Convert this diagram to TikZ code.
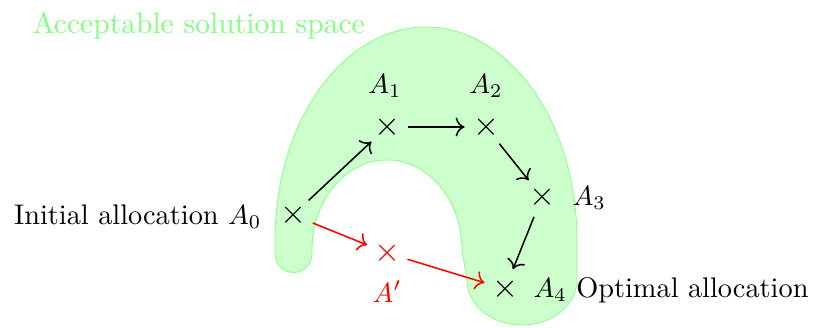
\documentclass[tikz,border=0pt]{standalone}
\usetikzlibrary{arrows.meta}
\tikzset{
  pt/.style={circle,inner sep=0pt,minimum size=15pt,font=\fontsize{12}{14}\selectfont},
  lab/.style={inner sep=0pt,font=\fontsize{10.2}{12}\selectfont},
  arr/.style={-{To[scale=1.15]},line width=0.55pt},
  redarr/.style={arr,red},
}
\begin{document}
\begin{tikzpicture}[x=0.36pt,y=-0.36pt]
\useasboundingbox (0,0) rectangle (817,327);
% acceptable region
\fill[green!20,draw=green!45,line width=0.3pt]
  (275,254) -- (275,240)
  arc[start angle=180,end angle=360,x radius=151,y radius=213]
  -- (577,280)
  arc[start angle=0,end angle=180,x radius=55,y radius=45]
  -- (462,250)
  arc[start angle=0,end angle=-180,x radius=75,y radius=90]
  -- (312,254)
  arc[start angle=0,end angle=180,radius=18.5]
  -- cycle;
\node[lab,anchor=base west,text=green!50,font=\fontsize{10.65}{13}\selectfont] (title) at (32,34) {Acceptable solution space};
% points
\node[pt] (a0) at (293,215) {$\times$};
\node[pt] (a1) at (387,127) {$\times$};
\node[pt] (a2) at (486,127) {$\times$};
\node[pt] (a3) at (542,197) {$\times$};
\node[pt] (a4) at (505,289) {$\times$};
\node[pt,text=red] (ap) at (387,253) {$\times$};
% labels
\node[lab,anchor=base east] (l0) at (262,224) {Initial allocation $A_0$};
\node[lab,anchor=base] (l1) at (385,93) {$A_1$};
\node[lab,anchor=base] (l2) at (486,93) {$A_2$};
\node[lab,anchor=base west] (l3) at (572,205) {$A_3$};
\node[lab,anchor=base west] (l4) at (533,297) {$A_4$ Optimal allocation};
\node[lab,anchor=base,text=red] (lp) at (387,302) {$A'$};
% arrows
\draw[arr] (a0) -- (a1);
\draw[arr] (a1) -- (a2);
\draw[arr] (a2) -- (a3);
\draw[arr] (a3) -- (a4);
\draw[redarr] (a0) -- (ap);
\draw[redarr] (ap) -- (a4);
\end{tikzpicture}
\end{document}
